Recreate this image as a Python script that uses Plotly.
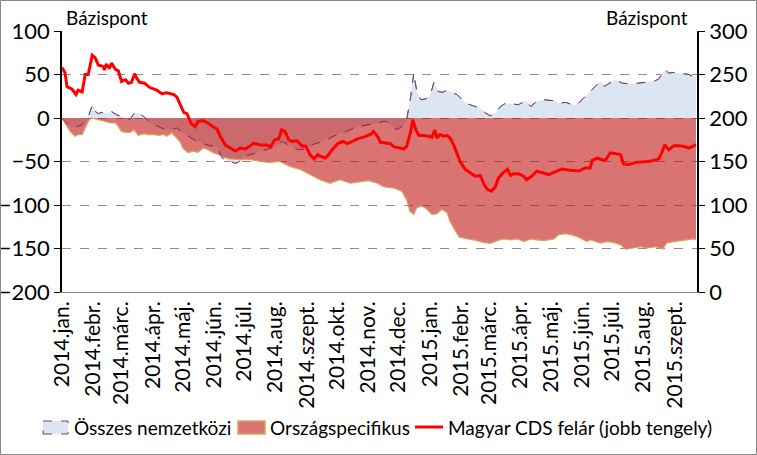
import plotly.graph_objects as go

# ---------------- data ----------------
cds_dates = [
    "2014-01-01", "2014-01-04", "2014-01-06", "2014-01-11", "2014-01-15", "2014-01-17", "2014-01-21",
    "2014-01-24", "2014-01-27", "2014-01-31", "2014-02-03", "2014-02-06", "2014-02-11", "2014-02-12",
    "2014-02-14", "2014-02-17", "2014-02-19", "2014-02-23", "2014-02-26", "2014-03-01", "2014-03-05",
    "2014-03-08", "2014-03-11", "2014-03-14", "2014-03-16", "2014-03-19", "2014-03-24", "2014-03-29",
    "2014-04-05", "2014-04-10", "2014-04-15", "2014-04-22", "2014-04-25", "2014-04-29", "2014-05-02",
    "2014-05-05", "2014-05-09", "2014-05-13", "2014-05-16", "2014-05-21", "2014-05-26", "2014-05-31",
    "2014-06-04", "2014-06-07", "2014-06-12", "2014-06-17", "2014-06-22", "2014-06-27", "2014-07-02",
    "2014-07-07", "2014-07-10", "2014-07-17", "2014-07-23", "2014-07-27", "2014-07-31", "2014-08-04",
    "2014-08-07", "2014-08-10", "2014-08-14", "2014-08-17", "2014-08-22", "2014-08-27", "2014-08-31",
    "2014-09-04", "2014-09-08", "2014-09-12", "2014-09-14", "2014-09-19", "2014-09-22", "2014-09-26",
    "2014-09-29", "2014-10-02", "2014-10-07", "2014-10-11", "2014-10-16", "2014-10-21", "2014-10-27",
    "2014-11-03", "2014-11-06", "2014-11-10", "2014-11-13", "2014-11-18", "2014-11-23", "2014-11-26",
    "2014-12-01", "2014-12-06", "2014-12-09", "2014-12-13", "2014-12-15", "2014-12-18", "2014-12-21",
    "2014-12-26", "2014-12-31", "2015-01-03", "2015-01-06", "2015-01-08", "2015-01-11", "2015-01-15",
    "2015-01-18", "2015-01-21", "2015-01-25", "2015-01-28", "2015-01-31", "2015-02-05", "2015-02-10",
    "2015-02-15", "2015-02-20", "2015-02-24", "2015-02-27", "2015-03-03", "2015-03-07", "2015-03-10",
    "2015-03-15", "2015-03-19", "2015-03-22", "2015-03-25", "2015-03-30", "2015-04-04", "2015-04-07",
    "2015-04-12", "2015-04-17", "2015-04-22", "2015-04-26", "2015-04-29", "2015-05-04", "2015-05-12",
    "2015-05-20", "2015-05-29", "2015-06-04", "2015-06-09", "2015-06-11", "2015-06-16", "2015-06-21",
    "2015-06-24", "2015-06-29", "2015-07-04", "2015-07-09", "2015-07-12", "2015-07-17", "2015-07-24",
    "2015-07-31", "2015-08-06", "2015-08-11", "2015-08-16", "2015-08-19", "2015-08-22", "2015-08-26",
    "2015-08-31", "2015-09-05", "2015-09-10", "2015-09-15", "2015-09-19", "2015-09-22",
]
cds_values = [
    258, 252, 236, 233, 227, 232, 230,
    250, 250, 272, 269, 261, 259, 255,
    262, 257, 263, 256, 254, 242, 244,
    240, 241, 251, 246, 241, 240, 235,
    232, 228, 229, 227, 224, 213, 206,
    205, 194, 190, 196, 197, 194, 190,
    187, 179, 169, 165.5, 162, 165.5, 164.4,
    168, 171, 169, 169, 167, 175, 176,
    186.6, 184.6, 175, 173, 174, 168, 167.4,
    158, 153, 158, 156, 154, 157, 163.6,
    167.4, 171, 173, 170.5, 173, 176, 178,
    181, 184.6, 179, 172, 171, 170.5, 167,
    165.5, 164.4, 167.4, 184.6, 198, 186.6, 180,
    180, 179, 178, 186, 177, 181, 179,
    180, 177, 168, 160, 150, 141, 137,
    133, 134, 123, 118, 116, 121, 131,
    137.5, 141, 134, 136, 136, 133, 129,
    133, 139, 137.5, 136, 135, 137.5, 141.4,
    140, 139, 142.5, 142.5, 151.3, 154, 152,
    151.3, 160, 159, 158, 147.5, 146.4, 149,
    149.4, 150, 151.3, 153, 160, 169.3, 163.6,
    168, 168, 167.4, 165.5, 167.4, 169.3,
]

orsz_dates = [
    "2014-01-01", "2014-01-02", "2014-01-06", "2014-01-09", "2014-01-14", "2014-01-17", "2014-01-21",
    "2014-01-24", "2014-01-27", "2014-01-30", "2014-02-03", "2014-02-08", "2014-02-13", "2014-02-18",
    "2014-02-23", "2014-02-26", "2014-03-01", "2014-03-05", "2014-03-10", "2014-03-13", "2014-03-18",
    "2014-03-23", "2014-03-28", "2014-04-02", "2014-04-07", "2014-04-12", "2014-04-15", "2014-04-20",
    "2014-04-25", "2014-04-28", "2014-05-01", "2014-05-06", "2014-05-11", "2014-05-16", "2014-05-21",
    "2014-05-26", "2014-05-31", "2014-06-05", "2014-06-10", "2014-06-17", "2014-06-27", "2014-07-07",
    "2014-07-17", "2014-07-27", "2014-08-05", "2014-08-15", "2014-08-25", "2014-09-04", "2014-09-14",
    "2014-09-24", "2014-10-04", "2014-10-14", "2014-10-24", "2014-11-01", "2014-11-10", "2014-11-16",
    "2014-11-26", "2014-12-04", "2014-12-09", "2014-12-12", "2014-12-16", "2014-12-19", "2014-12-24",
    "2014-12-29", "2015-01-03", "2015-01-08", "2015-01-13", "2015-01-18", "2015-01-21", "2015-01-26",
    "2015-01-30", "2015-02-04", "2015-02-10", "2015-02-17", "2015-02-23", "2015-03-02", "2015-03-09",
    "2015-03-15", "2015-03-22", "2015-03-29", "2015-04-04", "2015-04-11", "2015-04-17", "2015-04-24",
    "2015-05-04", "2015-05-09", "2015-05-16", "2015-05-24", "2015-05-30", "2015-06-06", "2015-06-09",
    "2015-06-14", "2015-06-19", "2015-06-26", "2015-07-02", "2015-07-09", "2015-07-14", "2015-07-22",
    "2015-07-29", "2015-08-05", "2015-08-13", "2015-08-20", "2015-08-24", "2015-08-31", "2015-09-07",
    "2015-09-13", "2015-09-20", "2015-09-22",
]
orsz_values = [
    0, -2, -9.6, -15.4, -21, -19, -19,
    -11.5, -4, 0, -1, -2.8, -4, -5.7,
    -5.7, -10, -15.4, -16.6, -16.6, -13.4, -20,
    -18, -19, -19, -20, -19, -21, -17,
    -23, -27, -34.5, -40, -38, -39.5, -34.5,
    -36.4, -40, -42, -45, -47, -48, -48,
    -50, -51, -50, -55.6, -59, -65, -71,
    -75, -71, -75, -73, -72, -75, -79,
    -80.5, -84, -94, -107, -111, -103, -101,
    -105, -111, -110, -105, -109, -119, -130,
    -137, -138, -139, -141, -143, -144, -141,
    -139, -140, -139, -142, -139, -140, -141,
    -139, -134, -133, -135, -138, -142, -140,
    -142, -143.7, -142, -143, -145.6, -150.6, -149.4,
    -148, -149.4, -148, -150.6, -143.7, -142, -141,
    -140.7, -139, -140,
]

nemz_dates = [
    "2014-01-01", "2014-01-02", "2014-01-07", "2014-01-11", "2014-01-16", "2014-01-21", "2014-01-24",
    "2014-01-27", "2014-01-30", "2014-02-01", "2014-02-03", "2014-02-06", "2014-02-09", "2014-02-14",
    "2014-02-19", "2014-02-24", "2014-03-01", "2014-03-05", "2014-03-10", "2014-03-14", "2014-03-19",
    "2014-03-24", "2014-03-29", "2014-04-05", "2014-04-12", "2014-04-18", "2014-04-25", "2014-05-01",
    "2014-05-08", "2014-05-15", "2014-05-21", "2014-05-28", "2014-06-04", "2014-06-09", "2014-06-12",
    "2014-06-17", "2014-06-22", "2014-06-25", "2014-06-30", "2014-07-07", "2014-07-13", "2014-07-20",
    "2014-07-27", "2014-08-02", "2014-08-07", "2014-08-12", "2014-08-17", "2014-08-22", "2014-08-27",
    "2014-09-01", "2014-09-06", "2014-09-11", "2014-09-17", "2014-09-24", "2014-10-01", "2014-10-07",
    "2014-10-14", "2014-10-21", "2014-10-27", "2014-11-03", "2014-11-10", "2014-11-16", "2014-11-19",
    "2014-11-24", "2014-11-29", "2014-12-04", "2014-12-09", "2014-12-13", "2014-12-16", "2014-12-19",
    "2014-12-23", "2014-12-28", "2015-01-01", "2015-01-05", "2015-01-09", "2015-01-13", "2015-01-18",
    "2015-01-23", "2015-01-28", "2015-02-02", "2015-02-07", "2015-02-13", "2015-02-20", "2015-02-25",
    "2015-03-02", "2015-03-07", "2015-03-12", "2015-03-17", "2015-03-24", "2015-03-30", "2015-04-06",
    "2015-04-11", "2015-04-17", "2015-04-24", "2015-05-04", "2015-05-09", "2015-05-16", "2015-05-22",
    "2015-05-27", "2015-06-01", "2015-06-08", "2015-06-13", "2015-06-19", "2015-06-23", "2015-06-28",
    "2015-07-04", "2015-07-11", "2015-07-17", "2015-07-26", "2015-08-03", "2015-08-11", "2015-08-16",
    "2015-08-22", "2015-08-26", "2015-08-31", "2015-09-05", "2015-09-10", "2015-09-15", "2015-09-20",
    "2015-09-22",
]
nemz_values = [
    0, -2, -7.7, -10, -10, -7.7, -4,
    1, 11.5, 15.3, 7.6, 5, 6.4, 5.7,
    7.6, 3.8, 1.8, -1, -1, 6.4, 5,
    1, -5.7, -9.6, -12.6, -13.4, -11.5, -17,
    -22, -27, -29.5, -32, -33, -46, -48,
    -50, -52, -51, -44, -42, -40, -37,
    -34.5, -32.6, -27, -29.5, -32.6, -36.4, -36.4,
    -35.6, -30.7, -28.7, -27, -23, -19, -17,
    -13.4, -10, -8.9, -7.7, -5.7, -4, -4,
    -10, -13.4, -10, -2, 25, 52, 30.6,
    21, 22, 25, 41, 30.6, 29.5, 31.7,
    29.5, 26.8, 21, 16.4, 14, 11.5, 5.7,
    2.6, 5.7, 13.3, 17, 16.4, 15.3, 20,
    13.3, 19, 21, 19.9, 17, 18, 15.3,
    15.3, 21, 28.7, 34.5, 42, 36.4, 40,
    44, 40, 39.4, 40, 41, 42, 44.8,
    55.5, 51.7, 52.4, 51.7, 51, 50, 47,
    47.8,
]

tick_dates = [
    "2014-01-01", "2014-02-01", "2014-03-01", "2014-04-01", "2014-05-01", "2014-06-01", "2014-07-01",
    "2014-08-01", "2014-09-01", "2014-10-01", "2014-11-01", "2014-12-01", "2015-01-01", "2015-02-01",
    "2015-03-01", "2015-04-01", "2015-05-01", "2015-06-01", "2015-07-01", "2015-08-01", "2015-09-01",
]
tick_labels = [
    "2014.jan.", "2014.febr.", "2014.márc.", "2014.ápr.", "2014.máj.", "2014.jún.", "2014.júl.",
    "2014.aug.", "2014.szept.", "2014.okt.", "2014.nov.", "2014.dec.", "2015.jan.", "2015.febr.",
    "2015.márc.", "2015.ápr.", "2015.máj.", "2015.jún.", "2015.júl.", "2015.aug.", "2015.szept.",
]

series_names = ["Összes nemzetközi", "Országspecifikus", "Magyar CDS felár (jobb tengely)"]

# ---------------- styling ----------------
W, H = 757, 455
ML, MR, MT, MB = 62, 60, 31, 163
FONT = "Lato, 'Open Sans', sans-serif"
C_NEMZ_FILL = "#DCE6F2"
C_NEMZ_LINE = "#7A3C6A"
C_ORSZ_FILL = "rgba(192,24,20,0.6)"
C_ORSZ_LINE = "#D9A25E"
C_CDS = "#FF0000"

pw = W - ML - MR
ph = H - MT - MB


def px_x(x):
    return (x - ML) / pw


def px_y(y):
    return (H - MB - y) / ph


fig = go.Figure()

fig.add_trace(go.Scatter(
    x=nemz_dates, y=nemz_values, name=series_names[0], mode="lines",
    fill="tozeroy", fillcolor=C_NEMZ_FILL,
    line=dict(color=C_NEMZ_LINE, width=1, dash="dash"), showlegend=False,
))
fig.add_trace(go.Scatter(
    x=orsz_dates, y=orsz_values, name=series_names[1], mode="lines",
    fill="tozeroy", fillcolor=C_ORSZ_FILL,
    line=dict(color=C_ORSZ_LINE, width=1.2), showlegend=False,
))
fig.add_trace(go.Scatter(
    x=nemz_dates, y=nemz_values, mode="lines", showlegend=False, hoverinfo="skip",
    line=dict(color="rgba(122,60,106,0.7)", width=1, dash="dash"),
))
fig.add_trace(go.Scatter(
    x=cds_dates, y=cds_values, name=series_names[2], mode="lines", yaxis="y2",
    line=dict(color=C_CDS, width=3), showlegend=False,
))

# legend drawn by hand (square swatches as in the reference)
legend_shapes = [
    dict(type="rect", xref="paper", yref="paper", x0=px_x(43), x1=px_x(68), y0=px_y(434), y1=px_y(421),
         fillcolor=C_NEMZ_FILL, line=dict(color=C_NEMZ_LINE, width=1, dash="dash")),
    dict(type="rect", xref="paper", yref="paper", x0=px_x(238), x1=px_x(265), y0=px_y(434), y1=px_y(421),
         fillcolor=C_ORSZ_FILL, line=dict(color=C_ORSZ_LINE, width=1.5)),
    dict(type="line", xref="paper", yref="paper", x0=px_x(415), x1=px_x(443), y0=px_y(427), y1=px_y(427),
         line=dict(color=C_CDS, width=3)),
]
legend_text_x = [72, 268, 446]
legend_annotations = [
    dict(text=series_names[i], xref="paper", yref="paper", x=px_x(legend_text_x[i]), y=px_y(427.5),
         xanchor="left", yanchor="middle", showarrow=False, font=dict(family=FONT, size=19, color="black"))
    for i in range(3)
]

frame = dict(type="rect", xref="paper", yref="paper", layer="above",
             x0=px_x(0.5), x1=px_x(W - 0.5), y0=px_y(H - 0.5), y1=px_y(0.5),
             line=dict(color="#868686", width=1), fillcolor="rgba(0,0,0,0)")

fig.update_layout(
    width=W, height=H, autosize=False,
    margin=dict(l=ML, r=MR, t=MT, b=MB, pad=0, autoexpand=False),
    paper_bgcolor="white", plot_bgcolor="white",
    font=dict(family=FONT, size=20, color="black"),
    showlegend=False,
    xaxis=dict(
        type="date", range=["2014-01-01", "2015-09-23"], automargin=False,
        tickmode="array", tickvals=tick_dates, ticktext=tick_labels, tickangle=-90,
        tickfont=dict(family=FONT, size=21),
        showgrid=False, showline=True, linecolor="#868686", linewidth=1,
        ticks="", zeroline=False,
    ),
    yaxis=dict(
        range=[-200, 100], dtick=50, tick0=0, automargin=False,
        showgrid=True, gridcolor="#8C8C8C", griddash="dash", gridwidth=1,
        showline=True, linecolor="black", linewidth=1.5,
        ticks="outside", ticklen=6, tickcolor="black",
        zeroline=False, tickfont=dict(family=FONT, size=22),
    ),
    yaxis2=dict(
        range=[0, 300], dtick=50, tick0=0, overlaying="y", side="right", automargin=False,
        showgrid=False, showline=True, linecolor="black", linewidth=1.5,
        ticks="outside", ticklen=6, tickcolor="black",
        zeroline=False, tickfont=dict(family=FONT, size=22),
    ),
    annotations=[
        dict(text="Bázispont", xref="paper", yref="paper", x=px_x(64), y=px_y(17),
             xanchor="left", yanchor="middle", showarrow=False, font=dict(family=FONT, size=19)),
        dict(text="Bázispont", xref="paper", yref="paper", x=px_x(690), y=px_y(17),
             xanchor="right", yanchor="middle", showarrow=False, font=dict(family=FONT, size=19)),
    ] + legend_annotations,
    shapes=legend_shapes + [frame],
)

fig.write_html("out.html", post_script="document.body.style.margin='0';",
               config={"displayModeBar": False})
